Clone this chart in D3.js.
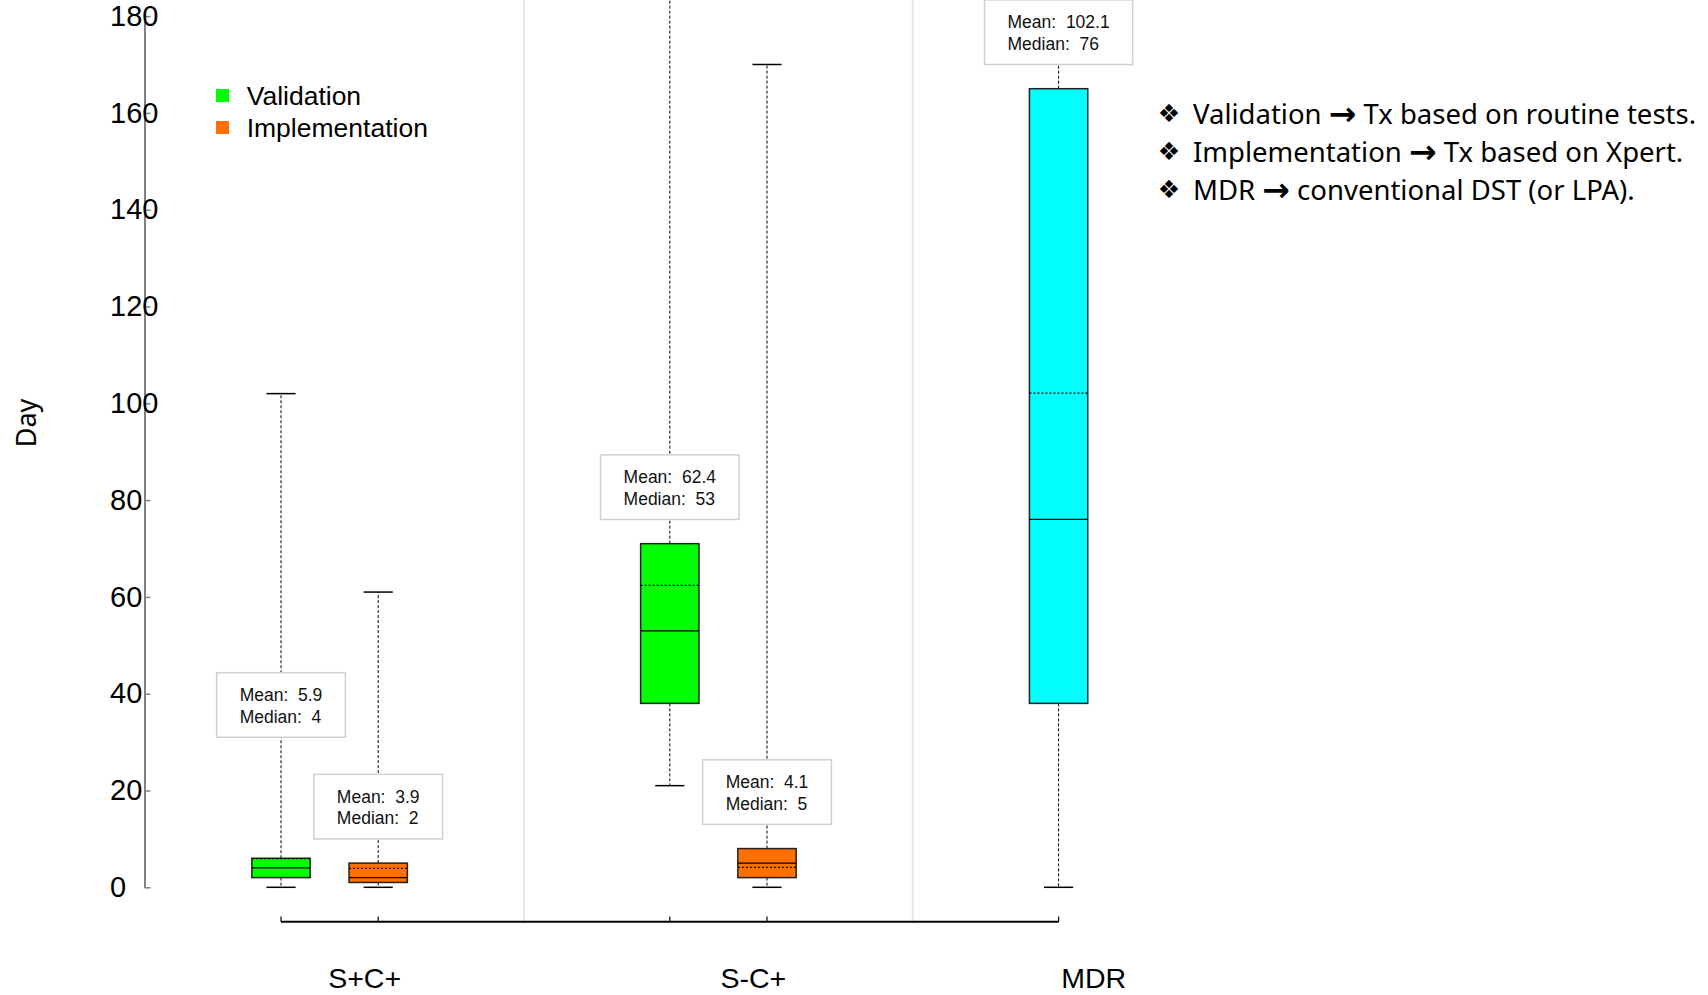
<!DOCTYPE html>
<html>
<head>
<meta charset="utf-8">
<script src="https://cdn.jsdelivr.net/npm/d3@7"></script>
<style>
  body { margin: 0; background: #fff; }
  svg { display: block; font-family: "Liberation Sans", Arial, sans-serif; }
</style>
</head>
<body>
<div id="chart"></div>
<script>
// groups along the x axis, and which series each box belongs to
var groups = ["S+C+", "S-C+", "MDR"];
var boxGroup = ["S+C+", "S+C+", "S-C+", "S-C+", "MDR"];
var boxSeries = ["Validation", "Implementation", "Validation", "Implementation", "MDR"];

// box statistics (days)
var boxLow = [0, 0, 21, 0, 0];
var boxQ1 = [2, 1, 38, 2, 38];
var boxMedian = [4, 2, 53, 5, 76];
var boxQ3 = [6, 5, 71, 8, 165];
var boxHigh = [102, 61, 200, 170, 200];   // two whiskers run off the top
var boxMean = [5.9, 3.9, 62.4, 4.1, 102.1];

var yTicks = [0, 20, 40, 60, 80, 100, 120, 140, 160, 180];
var legendItems = ["Validation", "Implementation"];
var noteLeft = ["Validation", "Implementation", "MDR"];
var noteRight = ["Tx based on routine tests.", "Tx based on Xpert.", "conventional DST (or LPA)."];

var width = 1708, height = 995;

var color = d3.scaleOrdinal()
    .domain(["Validation", "Implementation", "MDR"])
    .range(["#00ff00", "#ff7000", "#00ffff"]);

// slot = 4 per group, one per box inside the group
var x = d3.scaleLinear().domain([0, 8]).range([281, 1058.6]);
var y = d3.scaleLinear().domain([0, 180]).range([887.3, 16.1]);
var step = x(1) - x(0);
var boxW = step * 0.6, capW = step * 0.3;
var labelLift = [25, 5, 5, 5, 5];

var boxes = boxGroup.map(function(g, i) {
    var gi = groups.indexOf(g);
    var within = boxGroup.slice(0, i).filter(function(d) { return d === g; }).length;
    return {
        i: i, group: g, series: boxSeries[i], slot: gi * 4 + within,
        lo: boxLow[i], q1: boxQ1[i], med: boxMedian[i], q3: boxQ3[i], hi: boxHigh[i], mean: boxMean[i]
    };
});

var svg = d3.select("#chart").append("svg").attr("width", width).attr("height", height);

// light separators between groups
svg.selectAll(".sep").data([2.5, 6.5]).enter().append("line")
    .attr("x1", function(d) { return x(d); }).attr("x2", function(d) { return x(d); })
    .attr("y1", 0).attr("y2", 921.7)
    .attr("stroke", "#e6e6e6").attr("stroke-width", 2);

// y axis
var yAxis = svg.append("g").attr("transform", "translate(144.5,0)")
    .call(d3.axisLeft(y).tickValues(yTicks).tickSizeInner(-6).tickSizeOuter(0));
yAxis.select(".domain").attr("stroke", "#808080").attr("stroke-width", 2);
yAxis.selectAll(".tick line").attr("stroke", "#808080").attr("stroke-width", 1.5);
yAxis.selectAll(".tick text")
    .attr("x", -34.5).attr("text-anchor", "start")
    .style("font-family", "Liberation Sans, Arial, sans-serif")
    .style("font-size", "29px").attr("fill", "#000");

svg.append("text")
    .attr("transform", "translate(25,423) rotate(-90)")
    .attr("text-anchor", "middle").attr("dominant-baseline", "central")
    .style("font-family", "Noto Sans, sans-serif").style("font-size", "27px")
    .text("Day");

// x axis line with ticks at every box
svg.append("line")
    .attr("x1", x(0)).attr("x2", x(8)).attr("y1", 921.7).attr("y2", 921.7)
    .attr("stroke", "#000").attr("stroke-width", 2);
svg.selectAll(".xtick").data(boxes).enter().append("line")
    .attr("x1", function(d) { return x(d.slot); }).attr("x2", function(d) { return x(d.slot); })
    .attr("y1", 921.7).attr("y2", 916.5)
    .attr("stroke", "#000").attr("stroke-width", 1.2);

svg.selectAll(".glabel").data(groups).enter().append("text")
    .attr("x", function(d) {
        var s = boxes.filter(function(b) { return b.group === d; }).map(function(b) { return b.slot; });
        return x(d3.mean(s)) + 35;
    })
    .attr("y", 988)
    .attr("text-anchor", "middle")
    .style("font-size", "28.5px")
    .text(function(d) { return d; });

// boxes
var b = svg.selectAll(".box").data(boxes).enter().append("g").attr("class", "box");

b.append("line")
    .attr("x1", function(d) { return x(d.slot); }).attr("x2", function(d) { return x(d.slot); })
    .attr("y1", function(d) { return y(d.q3); }).attr("y2", function(d) { return y(d.hi); })
    .attr("stroke", "#000").attr("stroke-width", 1).attr("stroke-dasharray", "3,2");
b.append("line")
    .attr("x1", function(d) { return x(d.slot); }).attr("x2", function(d) { return x(d.slot); })
    .attr("y1", function(d) { return y(d.q1); }).attr("y2", function(d) { return y(d.lo); })
    .attr("stroke", "#000").attr("stroke-width", 1).attr("stroke-dasharray", "3,2");
["hi", "lo"].forEach(function(k) {
    b.append("line")
        .attr("x1", function(d) { return x(d.slot) - capW / 2; })
        .attr("x2", function(d) { return x(d.slot) + capW / 2; })
        .attr("y1", function(d) { return y(d[k]); }).attr("y2", function(d) { return y(d[k]); })
        .attr("stroke", "#000").attr("stroke-width", 1.5);
});
b.append("rect")
    .attr("x", function(d) { return x(d.slot) - boxW / 2; })
    .attr("width", boxW)
    .attr("y", function(d) { return y(d.q3); })
    .attr("height", function(d) { return y(d.q1) - y(d.q3); })
    .attr("fill", function(d) { return color(d.series); })
    .attr("stroke", "#222").attr("stroke-width", 1.5);
b.append("line")
    .attr("x1", function(d) { return x(d.slot) - boxW / 2; })
    .attr("x2", function(d) { return x(d.slot) + boxW / 2; })
    .attr("y1", function(d) { return y(d.med); }).attr("y2", function(d) { return y(d.med); })
    .attr("stroke", "#000").attr("stroke-width", 1.3);
b.append("line")
    .attr("x1", function(d) { return x(d.slot) - boxW / 2; })
    .attr("x2", function(d) { return x(d.slot) + boxW / 2; })
    .attr("y1", function(d) { return y(d.mean); }).attr("y2", function(d) { return y(d.mean); })
    .attr("stroke", "#000").attr("stroke-width", 1.2).attr("stroke-dasharray", "2,2");

// mean / median call-outs
var lab = b.append("g");
lab.each(function(d) {
    var g = d3.select(this);
    var bottom = y(d.q3 + labelLift[d.i]);
    var rect = g.append("rect").attr("fill", "#fff").attr("stroke", "#d0d0d0").attr("stroke-width", 1.5);
    var t1 = g.append("text").attr("y", bottom - 42.3).text("Mean:  " + d.mean);
    var t2 = g.append("text").attr("y", bottom - 20.6).text("Median:  " + d.med);
    var ts = g.selectAll("text").attr("dominant-baseline", "central")
        .style("font-size", "17.5px").style("white-space", "pre").attr("fill", "#111");
    var w = Math.max(t1.node().getComputedTextLength(), t2.node().getComputedTextLength()) + 46;
    var left = x(d.slot) - w / 2;
    ts.attr("x", left + 23);
    rect.attr("x", left).attr("width", w).attr("y", bottom - 64.6).attr("height", 64.6);
});

// legend
var leg = svg.selectAll(".leg").data(legendItems).enter().append("g")
    .attr("transform", function(d, i) { return "translate(216," + (95.5 + i * 32) + ")"; });
leg.append("rect").attr("x", 0).attr("y", -6.5).attr("width", 13).attr("height", 13)
    .attr("fill", function(d) { return color(d); });
leg.append("text").attr("x", 30.7).attr("dominant-baseline", "central")
    .style("font-size", "26.5px").text(function(d) { return d; });

// notes on the right
var nt = svg.selectAll(".note").data(noteLeft).enter().append("g")
    .attr("transform", function(d, i) { return "translate(1159," + (113 + i * 38.2) + ")"; });
nt.append("text").attr("x", 10).attr("text-anchor", "middle").attr("dominant-baseline", "central")
    .style("font-family", "DejaVu Sans, sans-serif").style("font-size", "25px").text("\u2756");
var line = nt.append("text").attr("x", 34).attr("dominant-baseline", "central")
    .style("font-family", "Noto Sans, sans-serif").style("font-size", "27.5px")
    .style("white-space", "pre");
line.append("tspan").text(function(d) { return d + " "; });
line.append("tspan").style("font-family", "DejaVu Sans, sans-serif").style("font-weight", "bold")
    .style("font-size", "33px").text("\u2192");
line.append("tspan").text(function(d, i) { return " " + noteRight[i]; });
</script>
</body>
</html>
